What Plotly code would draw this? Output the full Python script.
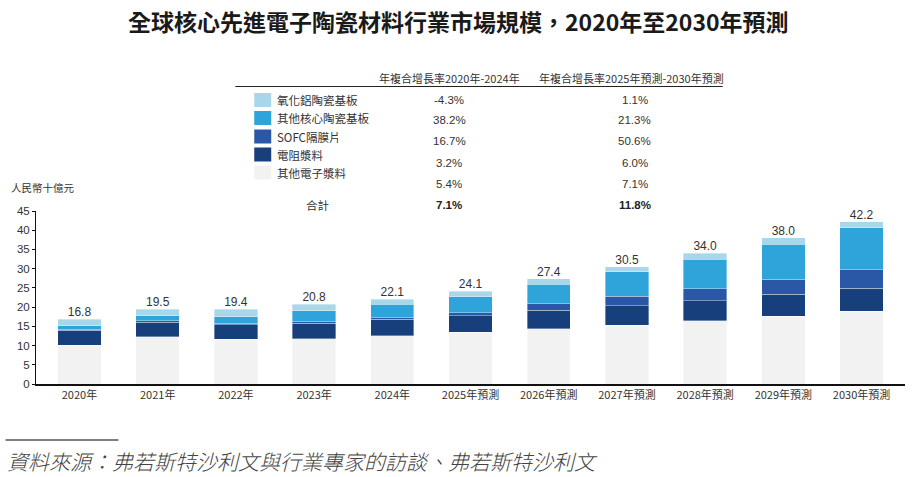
import plotly.graph_objects as go

categories = ["2020年", "2021年", "2022年", "2023年", "2024年", "2025年預測", "2026年預測",
              "2027年預測", "2028年預測", "2029年預測", "2030年預測"]
other_paste = [10.1, 12.3, 11.6, 11.8, 12.5, 13.4, 14.4, 15.3, 16.4, 17.6, 18.9]
resistor_paste = [3.9, 3.8, 3.8, 4.0, 4.3, 4.4, 4.8, 5.1, 5.3, 5.7, 6.0]
sofc = [0.3, 0.3, 0.4, 0.4, 0.4, 0.7, 1.7, 2.4, 3.1, 3.9, 4.8]
other_ceramic = [0.8, 1.3, 1.7, 2.8, 3.5, 4.2, 5.0, 6.4, 7.7, 9.2, 10.9]
alumina = [1.7, 1.8, 1.9, 1.8, 1.4, 1.4, 1.5, 1.3, 1.5, 1.6, 1.6]
totals = [16.8, 19.5, 19.4, 20.8, 22.1, 24.1, 27.4, 30.5, 34.0, 38.0, 42.2]

series_names = ["氧化鋁陶瓷基板", "其他核心陶瓷基板", "SOFC隔膜片", "電阻漿料", "其他電子漿料"]
cagr_2020_2024 = ["-4.3%", "38.2%", "16.7%", "3.2%", "5.4%"]
cagr_2025_2030 = ["1.1%", "21.3%", "50.6%", "6.0%", "7.1%"]
total_cagr = ["7.1%", "11.8%"]
col_headers = ["年複合增長率2020年-2024年", "年複合增長率2025年預測-2030年預測"]

colors = {
    "其他電子漿料": "#f2f2f2",
    "電阻漿料": "#163f7c",
    "SOFC隔膜片": "#2b58a6",
    "其他核心陶瓷基板": "#2ea4db",
    "氧化鋁陶瓷基板": "#a9d7ea",
}

W, H = 916, 477
L, R, T, B = 35.5, 10.5, 211, 93
PW, PH = W - L - R, H - T - B


def px(x):
    return (x - L) / PW


def py(y):
    return (H - B - y) / PH


FONT = "Noto Sans CJK TC"
fig = go.Figure()
stack = [("其他電子漿料", other_paste), ("電阻漿料", resistor_paste), ("SOFC隔膜片", sofc),
         ("其他核心陶瓷基板", other_ceramic), ("氧化鋁陶瓷基板", alumina)]
for name, vals in stack:
    fig.add_trace(go.Bar(x=categories, y=vals, name=name, marker_color=colors[name],
                         marker_line=dict(width=0.6, color="rgba(255,255,255,0.6)"),
                         showlegend=False))

fig.add_trace(go.Scatter(x=categories, y=totals, mode="text",
                         text=[f"{v:.1f}" for v in totals], textposition="top center",
                         textfont=dict(size=12, color="#333333", family="Liberation Sans"),
                         showlegend=False, cliponaxis=False))

ann = []
shapes = []
# title
ann.append(dict(x=px(458), y=py(21), xref="paper", yref="paper", showarrow=False,
                text="<b>全球核心先進電子陶瓷材料行業市場規模，2020年至2030年預測</b>",
                font=dict(size=23, color="#1a1a1a", family=FONT), xanchor="center", yanchor="middle"))
# table headers
for cx, h in zip([449, 632], col_headers):
    ann.append(dict(x=px(cx), y=py(78), xref="paper", yref="paper", showarrow=False, text=h,
                    font=dict(size=11, color="#333333", family=FONT), xanchor="center", yanchor="middle"))
shapes.append(dict(type="line", xref="paper", yref="paper", x0=px(235), x1=px(723),
                   y0=py(86.5), y1=py(86.5), line=dict(color="#222222", width=1.2)))
# legend rows
leg_y = [100, 118, 136.5, 154.5, 172.5]
for name, yy in zip(series_names, leg_y):
    shapes.append(dict(type="rect", xref="paper", yref="paper", x0=px(254), x1=px(271),
                       y0=py(yy + 7), y1=py(yy - 7), fillcolor=colors[name], line=dict(width=0)))
    ann.append(dict(x=px(275), y=py(yy), xref="paper", yref="paper", showarrow=False, text=name,
                    font=dict(size=11.5, color="#333333", family=FONT), xanchor="left", yanchor="middle"))
val_y = [99.5, 120, 141, 162.5, 183.5]
for v1, v2, yy in zip(cagr_2020_2024, cagr_2025_2030, val_y):
    ann.append(dict(x=px(449), y=py(yy), xref="paper", yref="paper", showarrow=False, text=v1,
                    font=dict(size=11.5, color="#333333", family="Liberation Sans"), xanchor="center", yanchor="middle"))
    ann.append(dict(x=px(635), y=py(yy), xref="paper", yref="paper", showarrow=False, text=v2,
                    font=dict(size=11.5, color="#333333", family="Liberation Sans"), xanchor="center", yanchor="middle"))
ann.append(dict(x=px(317), y=py(204.5), xref="paper", yref="paper", showarrow=False, text="合計",
                font=dict(size=11.5, color="#333333", family=FONT), xanchor="center", yanchor="middle"))
for cx, v in zip([449, 635], total_cagr):
    ann.append(dict(x=px(cx), y=py(204.5), xref="paper", yref="paper", showarrow=False, text=f"<b>{v}</b>",
                    font=dict(size=11.5, color="#222222", family="Liberation Sans"), xanchor="center", yanchor="middle"))
# y-axis unit
ann.append(dict(x=px(8), y=py(188), xref="paper", yref="paper", showarrow=False, text="人民幣十億元",
                font=dict(size=10.5, color="#333333", family=FONT), xanchor="left", yanchor="middle"))
# footnote
shapes.append(dict(type="line", xref="paper", yref="paper", x0=px(5), x1=px(118),
                   y0=py(440), y1=py(440), line=dict(color="#555555", width=1.5)))
ann.append(dict(x=px(4), y=py(461), xref="paper", yref="paper", showarrow=False,
                text="<i>資料來源：弗若斯特沙利文與行業專家的訪談、弗若斯特沙利文</i>",
                font=dict(size=21, color="#444444", family=FONT, weight=300),
                xanchor="left", yanchor="middle"))

fig.update_layout(
    width=W, height=H, barmode="stack", bargap=0.445,
    margin=dict(l=L, r=R, t=T, b=B, pad=0),
    paper_bgcolor="white", plot_bgcolor="white",
    annotations=ann, shapes=shapes,
    xaxis=dict(showline=True, linecolor="#111111", linewidth=1.5, ticks="", showgrid=False,
               tickfont=dict(size=11, color="#333333", family=FONT)),
    yaxis=dict(range=[0, 45], dtick=5, showline=True, linecolor="#111111", linewidth=1,
               ticks="outside", ticklen=3, tickcolor="#111111", showgrid=False, zeroline=False,
               tickfont=dict(size=11.5, color="#333333", family="Liberation Sans")),
)
fig.write_html("out.html", config={"displayModeBar": False},
               post_script="document.body.style.margin='0';")
